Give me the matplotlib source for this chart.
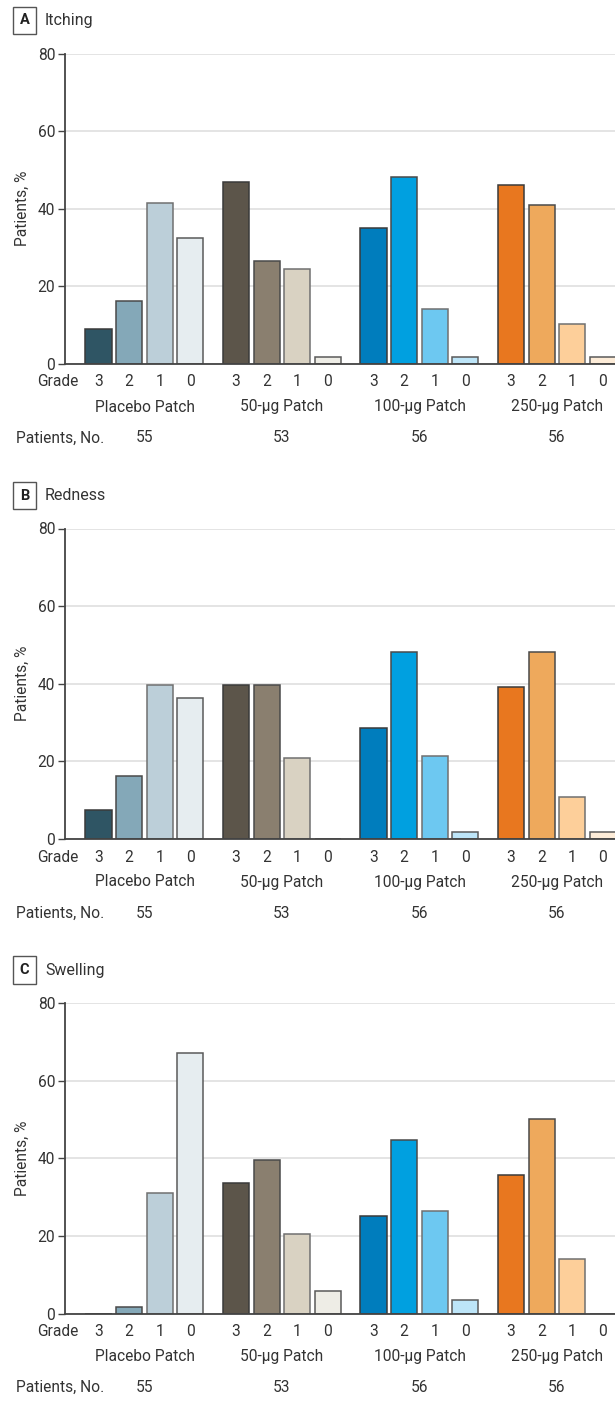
import numpy as np
import matplotlib
matplotlib.use('Agg')
import matplotlib.pyplot as plt

plt.rcParams['font.family'] = ['Roboto', 'DejaVu Sans']

groups = ['Placebo Patch', '50-µg Patch', '100-µg Patch', '250-µg Patch']
n_patients = [55, 53, 56, 56]
grades = ['3', '2', '1', '0']

itching = [[9.0, 16.2, 41.5, 32.5],
           [46.9, 26.5, 24.6, 1.8],
           [35.0, 48.1, 14.1, 1.8],
           [46.2, 40.9, 10.3, 1.8]]
redness = [[7.6, 16.2, 39.6, 36.3],
           [39.6, 39.6, 20.8, 0.0],
           [28.5, 48.1, 21.4, 1.8],
           [39.1, 48.1, 10.8, 1.8]]
swelling = [[0.0, 1.8, 31.1, 67.0],
            [33.7, 39.5, 20.6, 5.7],
            [25.2, 44.7, 26.4, 3.6],
            [35.6, 50.0, 14.1, 0.0]]

panels = [('A', 'Itching', itching), ('B', 'Redness', redness), ('C', 'Swelling', swelling)]

colors = [['#2f5564', '#84a8b8', '#bccfd9', '#e6edf0'],
          ['#5c554a', '#8a7f6f', '#d9d2c2', '#eeede6'],
          ['#007dbd', '#00a0e0', '#6dc8f1', '#bde5f8'],
          ['#e8771f', '#eea95c', '#fdcf9a', '#fdecd8']]
edges = ['#3a3a3a', '#4a4a4a', '#707070', '#5a5a5a']

W, H = 615, 1411
txt = '#333333'
fs = 11.2
fig = plt.figure(figsize=(W / 100, H / 100), dpi=100)

# pixel positions of the 80 line of each panel
tops = [53.5, 528.5, 1003]
ax_h = 310.5

for (letter, name, vals), top in zip(panels, tops):
    bottom = top + ax_h
    ax = fig.add_axes([65 / W, (H - bottom) / H, 550 / W, ax_h / H])
    for g in range(4):
        for j in range(4):
            x = g * 4.5 + j
            ax.bar(x, vals[g][j], width=0.86, color=colors[g][j],
                   edgecolor=edges[j], linewidth=1.1, zorder=3)
            ax.text(x, -18 / ax_h, grades[j], transform=ax.get_xaxis_transform(),
                    ha='center', va='center', fontsize=fs, color=txt)
        cx = g * 4.5 + 1.5
        ax.text(cx, -43 / ax_h, groups[g], transform=ax.get_xaxis_transform(),
                ha='center', va='center', fontsize=fs, color=txt)
        ax.text(cx, -74 / ax_h, str(n_patients[g]), transform=ax.get_xaxis_transform(),
                ha='center', va='center', fontsize=fs, color=txt)
    ax.set_xlim(-1.1, 16.9)
    ax.set_ylim(0, 80)
    ax.set_yticks([0, 20, 40, 60, 80])
    ax.set_xticks([])
    ax.yaxis.grid(True, color='#e2e2e2', linewidth=1.3, zorder=0)
    ax.set_axisbelow(True)
    for s in ['top', 'right']:
        ax.spines[s].set_visible(False)
    for s in ['left', 'bottom']:
        ax.spines[s].set_color('#444444')
        ax.spines[s].set_linewidth(1.3)
        ax.spines[s].set_zorder(4)
    ax.tick_params(axis='y', length=5, width=1, color='#444444',
                   labelsize=fs, labelcolor=txt, pad=2)
    fig.text(78 / W, 1 - (bottom + 18) / H, 'Grade', ha='right', va='center',
             fontsize=fs, color=txt)
    fig.text(16 / W, 1 - (bottom + 74) / H, 'Patients, No.', ha='left', va='center',
             fontsize=fs, color=txt)
    fig.text(22 / W, 1 - (top + ax_h / 2) / H, 'Patients, %', rotation=90,
             ha='center', va='center', fontsize=fs, color=txt)
    fig.text(24.5 / W, 1 - (top - 33) / H, letter, ha='center', va='center',
             fontsize=10.5, fontweight='bold', color='#222222',
             bbox=dict(boxstyle='square,pad=0.45', facecolor='white',
                       edgecolor='#555555', linewidth=1))
    fig.text(45 / W, 1 - (top - 33) / H, name, ha='left', va='center',
             fontsize=11.5, color=txt)

plt.savefig('out.png', dpi=100)
